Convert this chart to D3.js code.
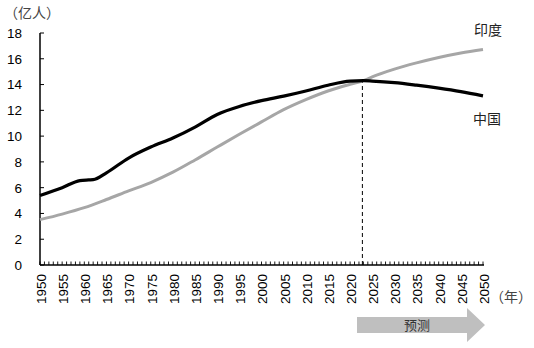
<!DOCTYPE html>
<html>
<head>
<meta charset="utf-8">
<script src="https://cdn.jsdelivr.net/npm/d3@7/dist/d3.min.js"></script>
<style>
  html, body { margin: 0; padding: 0; background: #fff; }
  svg { display: block; }
</style>
</head>
<body>
<svg id="chart" width="534" height="348"></svg>
<script>
// Population (hundred millions), actual up to early 2020s, projected after
const chinaYears  = [1950, 1955, 1959, 1961, 1962, 1965, 1970, 1975, 1980, 1985, 1990, 1995, 2000, 2005, 2010, 2015, 2020, 2023, 2025, 2030, 2035, 2040, 2045, 2050];
const chinaValues = [5.4, 6.0, 6.55, 6.6, 6.62, 7.15, 8.3, 9.15, 9.85, 10.7, 11.68, 12.3, 12.75, 13.1, 13.5, 13.95, 14.27, 14.3, 14.27, 14.15, 13.95, 13.72, 13.45, 13.12];
const indiaYears  = [1950, 1955, 1960, 1965, 1970, 1975, 1980, 1985, 1990, 1995, 2000, 2005, 2010, 2015, 2020, 2023, 2025, 2030, 2035, 2040, 2045, 2050];
const indiaValues = [3.52, 3.95, 4.45, 5.08, 5.75, 6.4, 7.2, 8.15, 9.15, 10.14, 11.1, 12.05, 12.83, 13.5, 14.02, 14.3, 14.6, 15.2, 15.68, 16.1, 16.45, 16.72];
const crossYear = 2023;          // India overtakes China
const crossValue = 14.3;
const yTicks = [0, 2, 4, 6, 8, 10, 12, 14, 16, 18];
const xLabelYears = d3.range(1950, 2051, 5);
const xMinorYears = d3.range(1950, 2051, 1);

const svg = d3.select("#chart");
const x = d3.scaleLinear().domain([1950, 2050]).range([40, 483]);
const y = d3.scaleLinear().domain([0, 18]).range([265, 33]);

const numFont = "'Liberation Sans', Arial, sans-serif";
const cjkFont = "'Noto Sans CJK SC', sans-serif";

// y axis: line, inward ticks, labels
svg.append("line").attr("x1", 40).attr("x2", 40).attr("y1", y(18)).attr("y2", y(0))
  .attr("stroke", "#000").attr("stroke-width", 1.5);
svg.selectAll(".ytick").data(yTicks).enter().append("line")
  .attr("x1", 40).attr("x2", 44).attr("y1", d => y(d)).attr("y2", d => y(d))
  .attr("stroke", "#000").attr("stroke-width", 1);
svg.selectAll(".ylab").data(yTicks).enter().append("text")
  .attr("x", 22).attr("y", d => y(d)).attr("dy", "0.36em")
  .attr("text-anchor", "end").attr("font-family", numFont).attr("font-size", 13.5)
  .attr("fill", "#000").text(d => d);

// x axis: line, yearly inward ticks, rotated labels
svg.append("line").attr("x1", 40).attr("x2", x(2050) + 1).attr("y1", y(0)).attr("y2", y(0))
  .attr("stroke", "#000").attr("stroke-width", 1.5);
svg.selectAll(".xtick").data(xMinorYears).enter().append("line")
  .attr("x1", d => x(d)).attr("x2", d => x(d)).attr("y1", y(0)).attr("y2", y(0) - 3.5)
  .attr("stroke", "#000").attr("stroke-width", 0.9);
svg.selectAll(".xlab").data(xLabelYears).enter().append("text")
  .attr("transform", d => `translate(${x(d) + 1},274) rotate(-90)`)
  .attr("dy", "0.36em").attr("text-anchor", "end")
  .attr("font-family", numFont).attr("font-size", 13.5).attr("fill", "#000")
  .text(d => d);

// dashed marker at the crossover
svg.append("line")
  .attr("x1", x(crossYear) - 1).attr("x2", x(crossYear) - 1)
  .attr("y1", y(0)).attr("y2", y(crossValue))
  .attr("stroke", "#000").attr("stroke-width", 1).attr("stroke-dasharray", "4,3");

// series lines
const line = d3.line().x(d => x(d[0])).y(d => y(d[1])).curve(d3.curveMonotoneX);
svg.append("path").datum(d3.zip(indiaYears, indiaValues)).attr("d", line)
  .attr("fill", "none").attr("stroke", "#a6a6a6").attr("stroke-width", 3);
svg.append("path").datum(d3.zip(chinaYears, chinaValues)).attr("d", line)
  .attr("fill", "none").attr("stroke", "#000").attr("stroke-width", 3.2);

// series names
svg.append("text").attr("x", 488).attr("y", 35).attr("text-anchor", "middle")
  .attr("font-family", cjkFont).attr("font-size", 14).attr("fill", "#222").text("印度");
svg.append("text").attr("x", 487).attr("y", 124).attr("text-anchor", "middle")
  .attr("font-family", cjkFont).attr("font-size", 14).attr("fill", "#222").text("中国");

// units
svg.append("text").attr("x", 4).attr("y", 18)
  .attr("font-family", cjkFont).attr("font-size", 14).attr("fill", "#444").text("（亿人）");
svg.append("text").attr("x", 490).attr("y", 302)
  .attr("font-family", cjkFont).attr("font-size", 14).attr("fill", "#444").text("（年）");

// projection arrow
const ax0 = 357, ax1 = 467, axTip = 485, bodyTop = 317, bodyBot = 333, headTop = 308, headBot = 342;
svg.append("path")
  .attr("d", `M${ax0},${bodyTop}H${ax1}V${headTop}L${axTip},${(headTop + headBot) / 2}L${ax1},${headBot}V${bodyBot}H${ax0}Z`)
  .attr("fill", "#bfbfbf");
svg.append("text").attr("x", 417).attr("y", 325).attr("dy", "0.36em").attr("text-anchor", "middle")
  .attr("font-family", cjkFont).attr("font-size", 13).attr("fill", "#333").text("预测");
</script>
</body>
</html>
